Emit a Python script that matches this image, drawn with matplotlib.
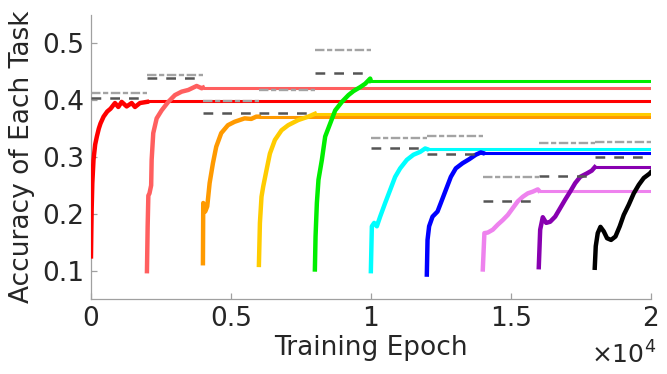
import numpy as np
import matplotlib
matplotlib.use("Agg")
import matplotlib.pyplot as plt

# each task is trained for 2000 epochs, one after the other
task_len = 2000
task_colors = ['#ff0000', '#ff5f5f', '#ff9a00', '#ffcc00', '#00ee00',
               '#00ffff', '#0000ff', '#ee82ee', '#8800b0', '#000000']

# accuracy of the task while it is being trained (epoch offset within task, acc)
red_ep = [0, 11, 24, 48, 90, 150, 210, 280, 340, 450, 580, 700, 858, 977, 1096, 1275, 1453, 1572, 1751, 2000]
red_acc = [0.125, 0.166, 0.207, 0.254, 0.295, 0.322, 0.336, 0.350, 0.359, 0.371, 0.380, 0.385, 0.395,
           0.388, 0.397, 0.389, 0.395, 0.388, 0.395, 0.397]
salmon_ep = [0, 25, 50, 90, 150, 168, 225, 347, 524, 761, 1001, 1240, 1477, 1776, 1955, 2000]
salmon_acc = [0.099, 0.178, 0.232, 0.236, 0.250, 0.295, 0.342, 0.368, 0.382, 0.397, 0.409, 0.415,
              0.418, 0.425, 0.421, 0.422]
orange_ep = [0, 11, 82, 154, 239, 357, 475, 654, 894, 1133, 1490, 1726, 1905, 2000]
orange_acc = [0.113, 0.219, 0.204, 0.213, 0.254, 0.289, 0.318, 0.342, 0.356, 0.362, 0.368, 0.367,
              0.371, 0.371]
gold_ep = [0, 36, 93, 154, 272, 393, 572, 808, 1047, 1405, 1762, 2000]
gold_acc = [0.110, 0.184, 0.230, 0.248, 0.277, 0.306, 0.330, 0.347, 0.356, 0.365, 0.371, 0.376]
green_ep = [0, 24, 71, 129, 250, 368, 547, 726, 965, 1201, 1380, 1620, 1798, 1976, 2000]
green_acc = [0.102, 0.160, 0.219, 0.260, 0.295, 0.336, 0.359, 0.382, 0.397, 0.409, 0.416, 0.423,
             0.429, 0.438, 0.434]
cyan_ep = [0, 36, 118, 214, 332, 511, 690, 868, 1047, 1287, 1523, 1762, 1941, 2000]
cyan_acc = [0.099, 0.178, 0.184, 0.178, 0.195, 0.219, 0.242, 0.265, 0.280, 0.295, 0.304, 0.309,
            0.315, 0.314]
blue_ep = [0, 25, 82, 204, 382, 500, 679, 858, 1036, 1276, 1512, 1751, 1930, 2000]
blue_acc = [0.093, 0.154, 0.178, 0.195, 0.204, 0.219, 0.242, 0.265, 0.280, 0.289, 0.296, 0.304,
            0.308, 0.307]
violet_ep = [0, 57, 179, 357, 536, 715, 894, 1072, 1251, 1430, 1608, 1787, 1966, 2000]
violet_acc = [0.102, 0.166, 0.167, 0.172, 0.181, 0.189, 0.198, 0.210, 0.222, 0.230, 0.236, 0.239,
              0.243, 0.241]
purple_ep = [0, 50, 143, 264, 407, 586, 765, 944, 1122, 1301, 1480, 1716, 1894, 2000]
purple_acc = [0.106, 0.172, 0.194, 0.184, 0.186, 0.195, 0.210, 0.225, 0.239, 0.254, 0.265, 0.271,
              0.276, 0.282]
black_ep = [0, 36, 107, 204, 322, 440, 583, 740, 893, 1036, 1215, 1394, 1573, 1751, 1966, 2000]
black_acc = [0.105, 0.143, 0.166, 0.177, 0.169, 0.157, 0.154, 0.160, 0.178, 0.198, 0.216, 0.236,
             0.251, 0.263, 0.271, 0.273]

train_eps = [red_ep, salmon_ep, orange_ep, gold_ep, green_ep,
             cyan_ep, blue_ep, violet_ep, purple_ep, black_ep]
train_accs = [red_acc, salmon_acc, orange_acc, gold_acc, green_acc,
              cyan_acc, blue_acc, violet_acc, purple_acc, black_acc]

# accuracy kept after the task is done
final_acc = [0.398, 0.422, 0.371, 0.376, 0.434, 0.314, 0.307, 0.241, 0.282, 0.273]

# reference accuracies per task
ref_gray = [0.412, 0.445, 0.398, 0.418, 0.489, 0.334, 0.337, 0.265, 0.325, 0.327]
ref_dark = [0.404, 0.439, 0.378, 0.378, 0.447, 0.315, 0.306, 0.223, 0.267, 0.300]

x_ticks = [0, 5000, 10000, 15000, 20000]
x_ticklabels = ['0', '0.5', '1', '1.5', '2']
y_ticks = [0.1, 0.2, 0.3, 0.4, 0.5]

txt = '#262626'
axcol = '#a0a0a0'
fs = 19

fig = plt.figure(figsize=(6.67, 3.74), dpi=100)
ax = fig.add_axes([0.1364, 0.2005, 0.8392, 0.7595])

n_tasks = len(task_colors)
end = n_tasks * task_len
for i in range(n_tasks):
    t0 = i * task_len
    c = task_colors[i]
    ax.plot([t0 + task_len, end], [final_acc[i], final_acc[i]], color=c, lw=2.2,
            solid_capstyle='butt', zorder=2)
    ax.plot(t0 + np.array(train_eps[i]), train_accs[i], color=c, lw=3.2,
            solid_joinstyle='round', zorder=3)

for i in range(n_tasks):
    t0 = i * task_len
    ax.plot([t0, t0 + task_len], [ref_gray[i]] * 2, color='#a3a3a3', lw=1.7,
            linestyle=(0, (4.0, 1.1, 2.2, 1.1)), zorder=4)
    ax.plot([t0, t0 + task_len], [ref_dark[i]] * 2, color='#555555', lw=1.8,
            linestyle=(0, (3.9, 3.6)), zorder=4)

ax.set_xlim(0, end)
ax.set_ylim(0.05, 0.55)
ax.set_xticks(x_ticks)
ax.set_xticklabels(x_ticklabels)
ax.set_yticks(y_ticks)
ax.set_yticklabels([f'{v:g}' for v in y_ticks])

for s in ['top', 'right']:
    ax.spines[s].set_visible(False)
for s in ['left', 'bottom']:
    ax.spines[s].set_color(axcol)
    ax.spines[s].set_linewidth(0.9)
ax.tick_params(direction='in', length=4, width=0.9, color=axcol,
               labelsize=fs, labelcolor=txt, pad=5)

ax.set_xlabel('Training Epoch', fontsize=fs, color=txt, labelpad=2)
ax.set_ylabel('Accuracy of Each Task', fontsize=fs, color=txt, labelpad=5)
ax.text(1.01, -0.15, r'$\times10^4$', transform=ax.transAxes, ha='right', va='top',
        fontsize=fs - 1, color=txt)

fig.savefig('out.png', dpi=100)
